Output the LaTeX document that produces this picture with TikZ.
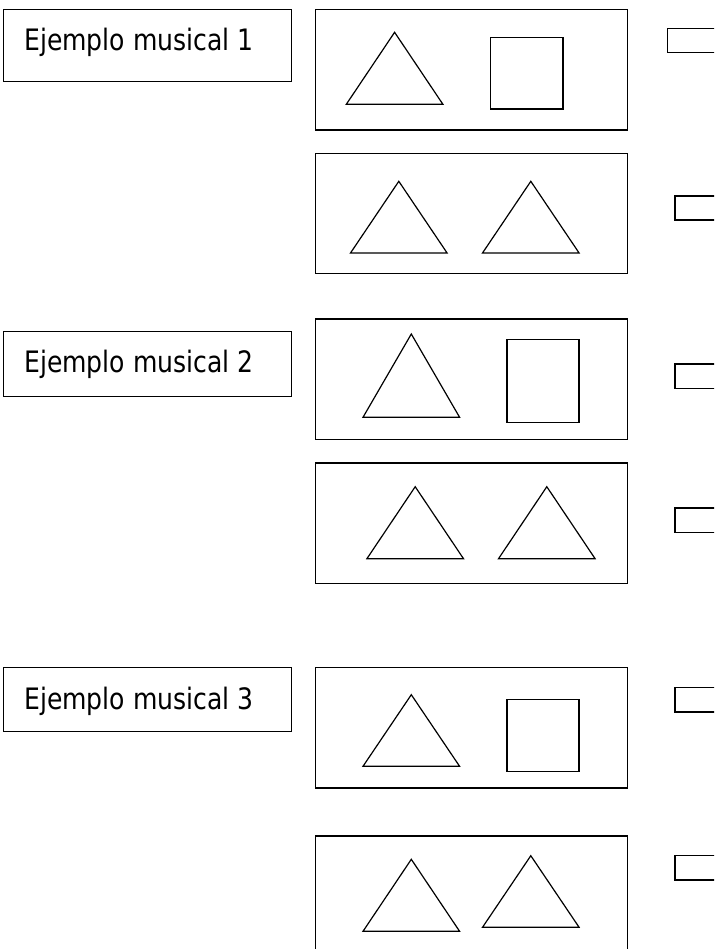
\documentclass[tikz,border=0pt]{standalone}
\usepackage{fontspec}
\setmainfont[FakeStretch=0.85]{DejaVu Sans}

\begin{document}
\begin{tikzpicture}[
    x=1pt, y=-1pt,
    every node/.style={font=\fontsize{29.5}{35}\selectfont},
]

% ---------------------------------------------------------------- colours
\definecolor{ink}{HTML}{000000}   % every line and letter
\definecolor{paper}{HTML}{FFFFFF}

\tikzset{
    labelbox/.style={draw=ink, line width=1.4pt, rectangle, anchor=north west,
        minimum width=288.3pt, inner sep=0pt},
    labeltext/.style={text=ink, anchor=base west, inner sep=0pt},
    shapebox/.style={draw=ink, line width=1.4pt, rectangle, anchor=north west,
        minimum width=312.3pt, minimum height=120.4pt, inner sep=0pt},
    answerbox/.style={draw=ink, line width=1.3pt, rectangle, anchor=north west,
        minimum width=60pt, minimum height=24.2pt, inner sep=0pt},
    shapeline/.style={draw=ink, line width=1.2pt},
}

% ================================================================
% Page in pixels: x to the right, y downwards, 714 x 949.
%   labels     left column, x = 2.7 .. 291
%   boxes      middle column, x = 314.7 .. 627
%   answers    right edge, cut off by the page
% ================================================================

\useasboundingbox (0,0) rectangle (714,949);
\fill[paper] (0,0) rectangle (714,949);
\clip (0,0) rectangle (714,949);

% labels: number / top / height / baseline
\foreach \n/\y/\h/\b in {1/9/71.7/50.7, 2/330.7/65/372.7, 3/666.7/64.3/709} {
    \node[labelbox, minimum height=\h pt] (lab\n) at (2.7, \y) {};
    \node[labeltext] (txt\n) at (24, \b) {Ejemplo musical \n};
}

% the six boxes with the figures
\foreach \n/\y in {1/9, 2/152.7, 3/318.3, 4/462.3, 5/667, 6/835.3}
    \node[shapebox] (box\n) at (314.7, \y) {};

% the small answer boxes on the right
\foreach \n/\x/\y in {1/666.7/27.7, 2/674.3/195.3, 3/674.3/363.3,
                      4/674.3/507.3, 5/674.3/687, 6/674.3/855}
    \node[answerbox] (ans\n) at (\x, \y) {};

% triangles: apex x / apex y / base y
\foreach \ax/\ay/\by in {%
    394.6/32.3/104.3,
    398.8/181.3/253, 530.8/181.3/253,
    411.3/334/417.3,
    415.2/486.7/558.7, 546.8/486.7/558.7,
    411.3/694.7/766.3,
    411.3/859.3/931.3, 530.8/855.7/927.3%
} {
    \draw[shapeline] (\ax, \ay) -- (\ax+48.3, \by) -- (\ax-48.3, \by) -- cycle;
}

% squares
\draw[shapeline] (490.3, 37.3) rectangle (563, 109);
\draw[shapeline] (507, 339.3) rectangle (579, 422.7);
\draw[shapeline] (507, 699.3) rectangle (579, 771.7);

\end{tikzpicture}
\end{document}
